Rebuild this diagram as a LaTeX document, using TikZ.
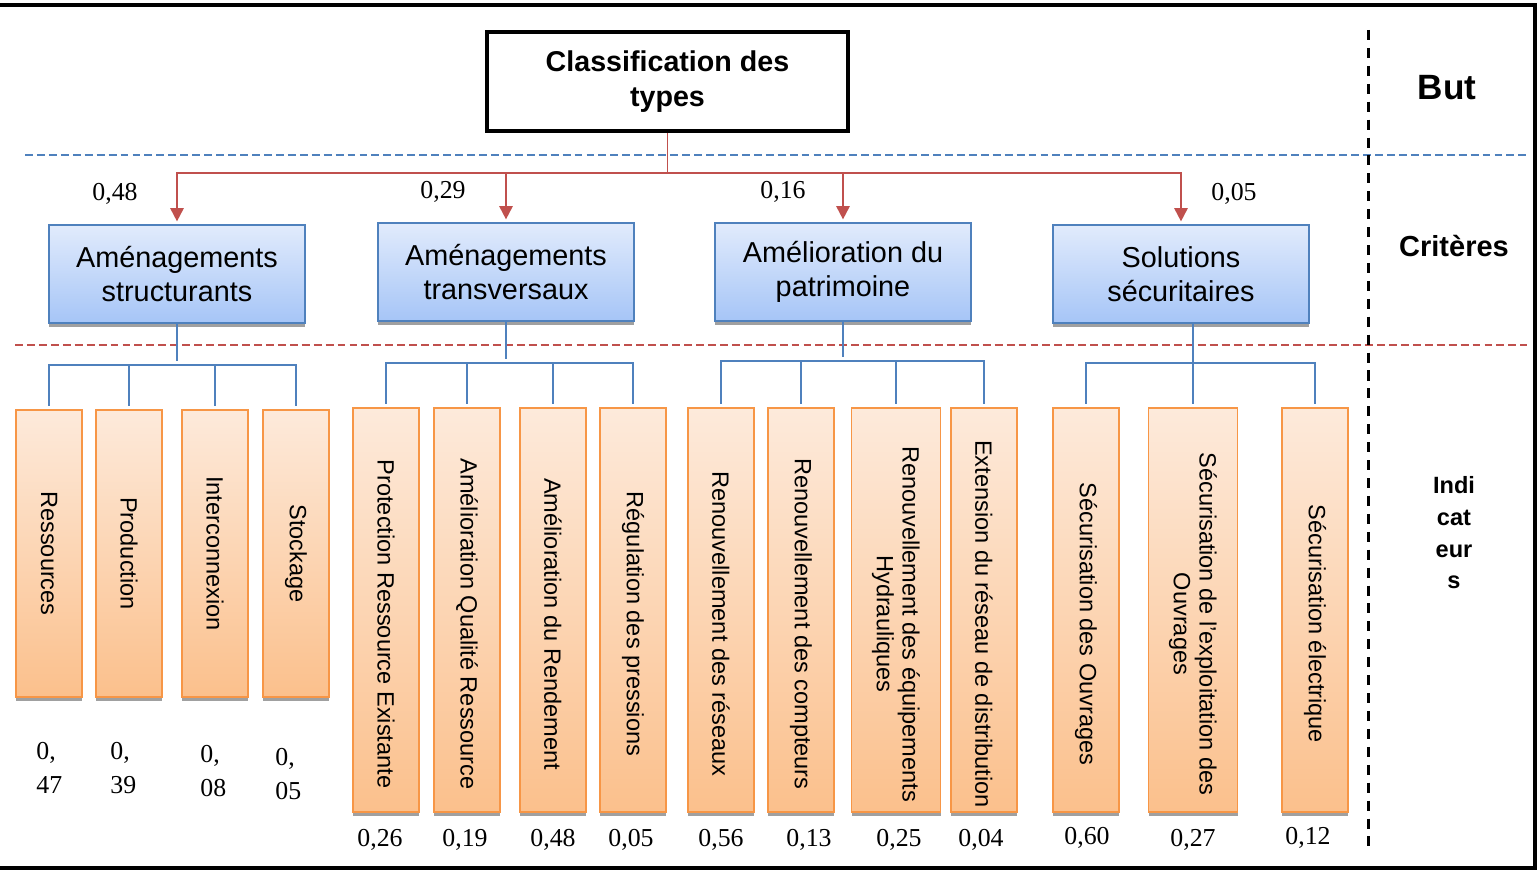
\documentclass[tikz,border=0pt]{standalone}
\usepackage{fontspec}
\setmainfont{Liberation Serif}
\setsansfont{Liberation Sans}
\usetikzlibrary{arrows.meta,shadows}

\definecolor{critblue}{HTML}{4F81BD}
\definecolor{critlight}{HTML}{E1EBFC}
\definecolor{critdark}{HTML}{A6C5F7}
\definecolor{treered}{HTML}{C0504D}
\definecolor{indorange}{HTML}{F79646}
\definecolor{indlight}{HTML}{FDEADB}
\definecolor{inddark}{HTML}{FBC08C}
\definecolor{shadowgray}{HTML}{A0A0A0}

\tikzset{
  goalbox/.style={draw=black, line width=2.3pt, fill=white, minimum width=7.22cm, minimum height=1.98cm,
    inner sep=0pt, align=center, font=\sffamily\bfseries\fontsize{16.3}{19.8}\selectfont},
  critbox/.style={draw=critblue, line width=1.1pt, top color=critlight, bottom color=critdark,
    minimum width=5.12cm, minimum height=1.96cm, inner sep=0pt, align=center,
    font=\sffamily\fontsize{16.4}{19.3}\selectfont,
    drop shadow={shadow xshift=0pt, shadow yshift=-2.3pt, fill=shadowgray, opacity=1}},
  indbox/.style={draw=indorange, line width=1.1pt, top color=indlight, bottom color=inddark,
    minimum width=1.32cm, inner sep=0pt,
    drop shadow={shadow xshift=0pt, shadow yshift=-2.3pt, fill=shadowgray, opacity=1}},
  indtext/.style={rotate=-90, align=center, inner sep=0pt, font=\sffamily\fontsize{13.4}{14.7}\selectfont},
  weight/.style={inner sep=0pt, font=\fontsize{14.7}{19.8}\selectfont},
  level/.style={inner sep=0pt, align=center, font=\sffamily\bfseries},
  redline/.style={draw=treered, line width=1.1pt},
  redarrow/.style={redline, -{Triangle[length=7.5pt,width=7.5pt]}, shorten >=1.5pt},
  blueline/.style={draw=critblue, line width=1.1pt, shorten >=2pt},
}

\begin{document}
\begin{tikzpicture}[x=0.02cm,y=-0.02cm]
\useasboundingbox (0,0) rectangle (1539,871);

% Frame
\draw[line width=2.3pt] (0,5) -- (1535,5) -- (1535,868) -- (0,868);

% Level separators
\draw[critblue, line width=1.1pt, dash pattern=on 4.5pt off 2.3pt] (25,155) -- (1527,155);
\draw[treered, line width=1.1pt, dash pattern=on 4.5pt off 2.3pt] (15,345) -- (1527,345);
\draw[line width=1.7pt, dash pattern=on 5.7pt off 4.5pt] (1368,30) -- (1368,848);

% Level names
\node[level, font=\sffamily\bfseries\fontsize{20}{24}\selectfont] (but) at (1447,88) {But};
\node[level, font=\sffamily\bfseries\fontsize{16.5}{20}\selectfont] (crit) at (1454,246) {Critères};
\node[level, font=\sffamily\bfseries\fontsize{13.4}{18}\selectfont] (indic) at (1454,533) {Indi\\cat\\eur\\s};

% Goal
\node[goalbox] (goal) at (667.5,81.5) {Classification des\\types};

% Criteria
\node[critbox] (crit1) at (177,274) {Aménagements\\structurants};
\node[critbox] (crit2) at (506,272) {Aménagements\\transversaux};
\node[critbox] (crit3) at (843,272) {Amélioration du\\patrimoine};
\node[critbox] (crit4) at (1181,274) {Solutions\\sécuritaires};

% Criteria weights
\node[weight] (wcrit1) at (115,194) {0,48};
\node[weight] (wcrit2) at (443,192) {0,29};
\node[weight] (wcrit3) at (783,192) {0,16};
\node[weight] (wcrit4) at (1234,194) {0,05};

% Goal to criteria
\coordinate (hub) at (667,173);
\draw[redline] (goal.south) -- (goal.south |- hub);
\foreach \c in {crit1,crit2,crit3,crit4}
{
\draw[redarrow] (goal.south |- hub) -| (\c.north);
}

% Indicators, first group
\foreach \n/\x/\t in {res/49/Ressources, prod/129/Production, inter/215/Interconnexion, stock/296/Stockage}
{
\node[indbox, minimum height=5.74cm] (\n) at (\x,553.5) {};
\node[indtext] (t\n) at (\x,553.5) {\t};
}

% Indicators, other groups
\foreach \n/\x/\w/\t in {prot/386/1.32/Protection Ressource Existante,
  qual/467/1.32/Amélioration Qualité Ressource,
  rend/553/1.32/Amélioration du Rendement,
  press/633/1.32/Régulation des pressions,
  reseau/721/1.32/Renouvellement des réseaux,
  compt/801/1.32/Renouvellement des compteurs,
  equip/896/1.78/{Renouvellement des équipements\\Hydrauliques},
  ext/984/1.32/Extension du réseau de distribution,
  ouvr/1086/1.32/Sécurisation des Ouvrages,
  expl/1193/1.78/{Sécurisation de l’exploitation des\\Ouvrages},
  elec/1315/1.32/Sécurisation électrique}
{
\node[indbox, minimum width=\w cm, minimum height=8.08cm] (\n) at (\x,610) {};
\node[indtext] (t\n) at (\x,624) {\t};
}

% Criteria to indicators
\coordinate (j1) at (175,365);
\coordinate (j2) at (509,363);
\coordinate (j3) at (847,361);
\coordinate (j4) at (1195,363);
\draw[blueline] (crit1.south) -- (crit1.south |- j1);
\foreach \i in {res,prod,inter,stock}
{
\draw[blueline] (crit1.south |- j1) -| (\i.north);
}
\draw[blueline] (crit2.south) -- (crit2.south |- j2);
\foreach \i in {prot,qual,rend,press}
{
\draw[blueline] (crit2.south |- j2) -| (\i.north);
}
\draw[blueline] (crit3.south) -- (crit3.south |- j3);
\foreach \i in {reseau,compt,equip,ext}
{
\draw[blueline] (crit3.south |- j3) -| (\i.north);
}
\draw[blueline] (expl.north |- crit4.south) -- (expl.north);
\foreach \i in {ouvr,elec}
{
\draw[blueline] (expl.north |- j4) -| (\i.north);
}

% Indicator weights
\node[weight, align=left, anchor=west] (wres) at (36,768) {0,\\47};
\node[weight, align=left, anchor=west] (wprod) at (110,768) {0,\\39};
\node[weight, align=left, anchor=west] (winter) at (200,771) {0,\\08};
\node[weight, align=left, anchor=west] (wstock) at (275,774) {0,\\05};
\foreach \n/\x/\y/\v in {prot/380/840/{0,26}, qual/465/840/{0,19}, rend/553/840/{0,48}, press/631/840/{0,05},
  reseau/721/840/{0,56}, compt/809/840/{0,13}, equip/899/840/{0,25}, ext/981/840/{0,04},
  ouvr/1087/838/{0,60}, expl/1193/840/{0,27}, elec/1308/838/{0,12}}
{
\node[weight] (w\n) at (\x,\y) {\v};
}

\end{tikzpicture}
\end{document}
